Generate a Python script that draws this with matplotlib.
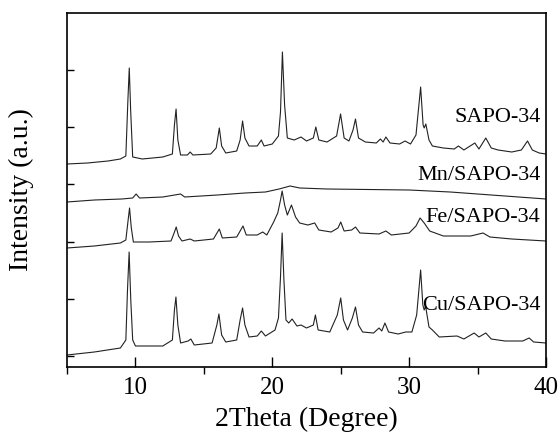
import numpy as np
import matplotlib
matplotlib.use("Agg")
from matplotlib import pyplot as plt
from matplotlib.ticker import FixedLocator, NullFormatter

plt.rcParams['font.family'] = ['Liberation Serif', 'DejaVu Serif']
plt.rcParams['mathtext.fontset'] = 'stix'

# 2theta (deg) and stacked intensity (a.u., offsets included)
sapo_x = [5.0, 6.5, 8.0, 8.9, 9.3, 9.45, 9.55, 9.65, 9.8, 10.5, 12.0, 12.7, 12.85, 12.97,
          13.1, 13.3, 13.8, 14.0, 14.2, 15.5, 15.9, 16.13, 16.3, 16.6, 17.4, 17.65, 17.83,
          18.0, 18.3, 18.9, 19.2, 19.4, 20.0, 20.45, 20.6, 20.74, 20.9, 21.1, 21.6, 22.1,
          22.5, 23.0, 23.18, 23.4, 24.0, 24.7, 24.99, 25.25, 25.6, 25.9, 26.08, 26.3, 26.8,
          27.6, 27.9, 28.1, 28.3, 28.6, 29.3, 29.7, 30.1, 30.5, 30.84, 31.02, 31.1, 31.22,
          31.45, 31.7, 32.5, 33.3, 33.6, 34.0, 34.8, 35.1, 35.6, 36.0, 36.5, 37.5, 38.2,
          38.65, 39.0, 39.5, 40.0]
sapo_y = [203, 204, 206, 208, 211, 267, 299, 257, 210, 208, 210, 213, 242, 258,
          227, 212, 212, 215, 212, 213, 219, 239, 221, 214, 216, 227, 246,
          229, 221, 221, 227, 221, 223, 231, 255, 315, 262, 229, 227, 230,
          226, 229, 240, 227, 225, 231, 253, 229, 226, 237, 248, 229, 225,
          224, 228, 225, 230, 224, 223, 226, 223, 232, 280, 242, 239, 243,
          227, 221, 219, 218, 221, 217, 224, 218, 229, 219, 217, 215, 217,
          226, 217, 214, 213]

mn_x = [5.0, 7.0, 9.0, 9.8, 10.05, 10.3, 12.0, 13.3, 13.6, 16.0, 18.0, 19.5, 20.5, 21.3,
        22.0, 24.0, 27.0, 30.0, 33.0, 35.0, 37.0, 40.0]
mn_y = [165, 167, 168, 169, 173, 169, 170, 173, 170, 172, 174, 175, 178, 181,
        179, 178, 177.5, 177, 175, 173, 171, 168]

fe_x = [5.0, 7.0, 8.9, 9.3, 9.45, 9.57, 9.7, 9.85, 11.0, 12.6, 12.8, 12.98, 13.15, 13.4,
        14.0, 14.3, 15.7, 16.13, 16.35, 17.4, 17.86, 18.1, 18.9, 19.3, 19.6, 20.1, 20.4,
        20.6, 20.72, 20.9, 21.1, 21.4, 21.7, 22.0, 22.6, 23.1, 23.4, 24.3, 24.8, 25.0,
        25.25, 25.8, 26.08, 26.4, 27.8, 28.3, 28.7, 30.0, 30.5, 30.8, 31.1, 31.5, 32.5,
        34.5, 35.4, 35.9, 37.5, 40.0]
fe_y = [119, 121, 124, 127, 145, 159, 139, 125, 125, 126, 133, 140, 131, 126,
        128, 126, 128, 138, 129, 130, 141, 132, 132, 135, 132, 145, 154,
        167, 176, 162, 152, 162, 150, 144, 142, 144, 137, 135, 139, 145,
        136, 137, 140, 134, 133, 136, 132, 134, 141, 149, 144, 136, 131,
        131, 134, 130, 128, 126]

cu_x = [5.0, 7.0, 8.9, 9.3, 9.42, 9.54, 9.66, 9.8, 10.0, 12.0, 12.7, 12.85, 12.96, 13.1,
        13.3, 13.85, 14.05, 14.3, 15.6, 15.95, 16.1, 16.3, 16.6, 17.4, 17.65, 17.83, 18.0,
        18.3, 18.9, 19.2, 19.5, 20.2, 20.45, 20.6, 20.72, 20.85, 21.0, 21.2, 21.45, 21.8,
        22.1, 22.5, 23.0, 23.15, 23.35, 24.2, 24.75, 25.0, 25.2, 25.5, 25.85, 26.08, 26.3,
        26.6, 27.4, 27.8, 28.0, 28.23, 28.5, 29.2, 29.75, 30.2, 30.55, 30.84, 31.0, 31.1,
        31.2, 31.45, 31.7, 32.2, 33.5, 34.0, 34.75, 35.1, 35.6, 36.0, 37.0, 38.3, 38.77,
        39.1, 40.0]
cu_y = [12, 15, 19, 27, 77, 115, 67, 27, 21, 21, 27, 57, 70, 42,
        24, 26, 28, 22, 24, 42, 53, 32, 25, 27, 47, 59, 42,
        30, 31, 36, 31, 37, 49, 90, 134, 87, 47, 44, 48, 41,
        42, 39, 42, 52, 37, 35, 52, 69, 47, 37, 49, 60, 42,
        35, 34, 39, 36, 44, 35, 33, 35, 35, 52, 97, 62, 57,
        61, 40, 37, 30, 31, 28, 34, 30, 34, 28, 26, 26, 29,
        25, 24]

labels = ["SAPO-34", "Mn/SAPO-34", "Fe/SAPO-34", "Cu/SAPO-34"]
label_y = [250, 192, 150, 62]

fig = plt.figure(figsize=(5.6, 4.36), dpi=100)
ax = fig.add_axes([67 / 560, 1 - 367 / 436, 479 / 560, 354 / 436])

series = [(sapo_x, sapo_y), (mn_x, mn_y), (fe_x, fe_y), (cu_x, cu_y)]
for (xs, ys), name, ly in zip(series, labels, label_y):
    ax.plot(xs, ys, color="#222222", lw=0.8)
    ax.text(39.6, ly, name, ha="right", va="center", fontsize=16)

ax.set_xlim(5, 40)
ax.set_ylim(0, 354)
ax.set_xticks([10, 20, 30, 40])
ax.xaxis.set_minor_locator(FixedLocator([5, 15, 25, 35]))
ax.set_yticks(np.arange(11, 354, 57.2))
ax.yaxis.set_major_formatter(NullFormatter())

ax.tick_params(axis="x", which="major", direction="in", length=7, width=1, labelsize=18, pad=7)
ax.tick_params(axis="x", which="minor", direction="out", length=5, width=1)
ax.tick_params(axis="y", which="major", direction="in", length=5, width=1)
for s in ax.spines.values():
    s.set_linewidth(1.2)

ax.set_xlabel("2Theta (Degree)", fontsize=20, labelpad=6)
ax.set_ylabel("Intensity (a.u.)", fontsize=20, labelpad=20)

fig.savefig("out.png", dpi=100)
